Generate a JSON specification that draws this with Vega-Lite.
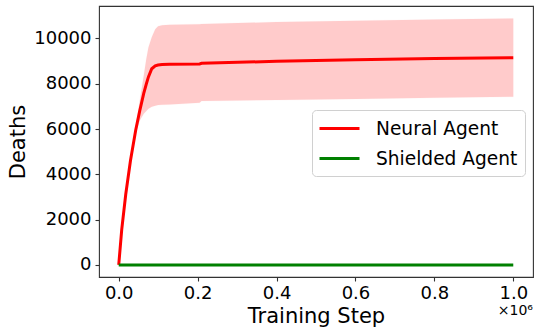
{
  "$schema": "https://vega.github.io/schema/vega-lite/v6.json",
  "width": 434,
  "height": 271,
  "autosize": {"type": "none"},
  "padding": {"left": 99, "top": 6, "right": 1, "bottom": 52},
  "background": "white",
  "config": {
    "font": "DejaVu Sans",
    "view": {"stroke": "#333333", "strokeWidth": 1.1},
    "axis": {
      "grid": false,
      "domain": false,
      "tickColor": "#333333",
      "tickSize": 4,
      "tickWidth": 1.1,
      "labelFont": "DejaVu Sans",
      "labelFontSize": 18,
      "labelColor": "#000000",
      "titleFont": "DejaVu Sans",
      "titleFontSize": 21,
      "titleFontWeight": "normal",
      "titleColor": "#000000"
    },
    "legend": {
      "labelFont": "DejaVu Sans",
      "labelFontSize": 18.6,
      "labelColor": "#000000"
    }
  },
  "datasets": {
    "curves": [
      {"series": "Neural Agent", "step": 0.0, "deaths": 0, "lo": 0, "hi": 0},
      {"series": "Neural Agent", "step": 0.0076, "deaths": 1560, "lo": 1550, "hi": 1570},
      {"series": "Neural Agent", "step": 0.0178, "deaths": 3120, "lo": 3100, "hi": 3140},
      {"series": "Neural Agent", "step": 0.0297, "deaths": 4600, "lo": 4550, "hi": 4660},
      {"series": "Neural Agent", "step": 0.0431, "deaths": 5960, "lo": 5820, "hi": 6150},
      {"series": "Neural Agent", "step": 0.0533, "deaths": 6810, "lo": 6380, "hi": 7250},
      {"series": "Neural Agent", "step": 0.0634, "deaths": 7574, "lo": 6680, "hi": 8350},
      {"series": "Neural Agent", "step": 0.07, "deaths": 7990, "lo": 6800, "hi": 9100},
      {"series": "Neural Agent", "step": 0.0753, "deaths": 8300, "lo": 6900, "hi": 9600},
      {"series": "Neural Agent", "step": 0.0837, "deaths": 8660, "lo": 6980, "hi": 10050},
      {"series": "Neural Agent", "step": 0.0925, "deaths": 8790, "lo": 7030, "hi": 10400},
      {"series": "Neural Agent", "step": 0.0997, "deaths": 8825, "lo": 7058, "hi": 10540},
      {"series": "Neural Agent", "step": 0.11, "deaths": 8845, "lo": 7070, "hi": 10580},
      {"series": "Neural Agent", "step": 0.129, "deaths": 8860, "lo": 7080, "hi": 10600},
      {"series": "Neural Agent", "step": 0.205, "deaths": 8870, "lo": 7160, "hi": 10630},
      {"series": "Neural Agent", "step": 0.21, "deaths": 8900, "lo": 7240, "hi": 10640},
      {"series": "Neural Agent", "step": 0.4, "deaths": 8990, "lo": 7280, "hi": 10720},
      {"series": "Neural Agent", "step": 0.6, "deaths": 9060, "lo": 7330, "hi": 10780},
      {"series": "Neural Agent", "step": 0.8, "deaths": 9110, "lo": 7380, "hi": 10830},
      {"series": "Neural Agent", "step": 1.0, "deaths": 9145, "lo": 7425, "hi": 10880},
      {"series": "Shielded Agent", "step": 0.0, "deaths": 0, "lo": 0, "hi": 0},
      {"series": "Shielded Agent", "step": 1.0, "deaths": 0, "lo": 0, "hi": 0}
    ],
    "offset": [{"label": "×10⁶", "step": 1.05, "deaths": -2200}]
  },
  "layer": [
    {
      "data": {"name": "curves"},
      "transform": [{"filter": "datum.series === 'Neural Agent'"}],
      "mark": {"type": "area", "color": "#ff0000", "opacity": 0.2, "stroke": "#ff0000", "strokeOpacity": 0.1},
      "encoding": {
        "x": {"field": "step", "type": "quantitative"},
        "y": {"field": "lo", "type": "quantitative"},
        "y2": {"field": "hi"}
      }
    },
    {
      "data": {"name": "curves"},
      "mark": {"type": "line", "strokeWidth": 3},
      "encoding": {
        "x": {
          "field": "step", "type": "quantitative",
          "scale": {"domain": [-0.05, 1.05], "nice": false, "zero": false},
          "axis": {"values": [0, 0.2, 0.4, 0.6, 0.8, 1.0], "format": ".1f", "title": "Training Step", "labelPadding": 3, "titlePadding": 3}
        },
        "y": {
          "field": "deaths", "type": "quantitative",
          "scale": {"domain": [-530, 11430], "nice": false, "zero": false},
          "axis": {"values": [0, 2000, 4000, 6000, 8000, 10000], "format": "d", "title": "Deaths", "labelPadding": 4, "titlePadding": 5}
        },
        "color": {
          "field": "series", "type": "nominal",
          "scale": {"domain": ["Neural Agent", "Shielded Agent"], "range": ["#ff0000", "#008000"]},
          "legend": {
            "title": null,
            "orient": "none",
            "legendX": 213,
            "legendY": 104,
            "symbolType": "M-1.1,0H2.9",
            "symbolStrokeWidth": 3,
            "symbolSize": 400,
            "rowPadding": 8,
            "labelOffset": 34,
            "padding": 7,
            "fillColor": "white",
            "strokeColor": "#d0d0d0",
            "cornerRadius": 4
          }
        },
        "detail": {"field": "series"}
      }
    },
    {
      "data": {"name": "offset"},
      "mark": {"type": "text", "align": "right", "baseline": "alphabetic", "fontSize": 14, "clip": false, "font": "DejaVu Sans", "color": "#000000"},
      "encoding": {
        "x": {"field": "step", "type": "quantitative"},
        "y": {"field": "deaths", "type": "quantitative"},
        "text": {"field": "label"}
      }
    }
  ]
}
